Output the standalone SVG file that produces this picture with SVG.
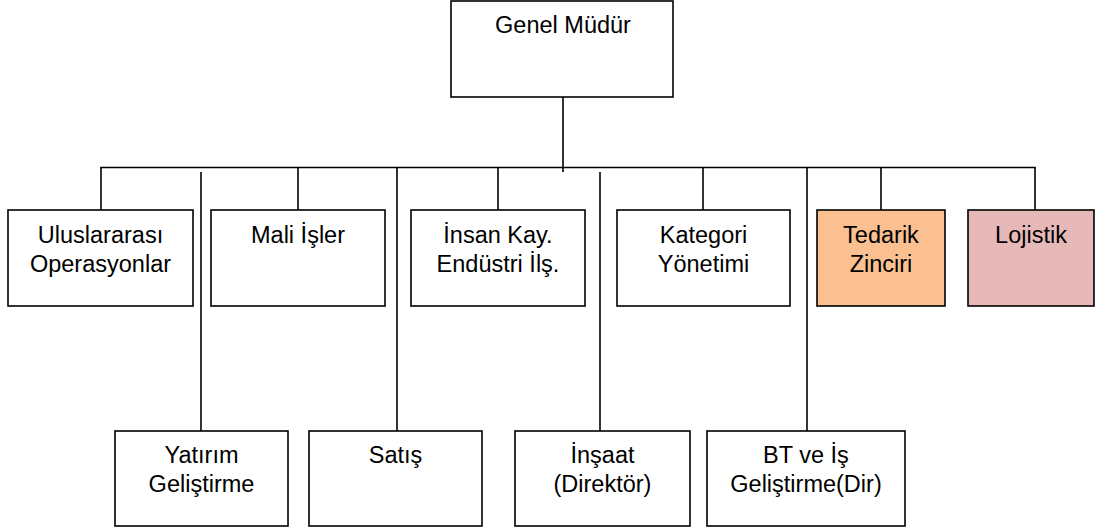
<svg xmlns="http://www.w3.org/2000/svg" width="1099" height="532" viewBox="0 0 1099 532">
  <style>
    .box { fill: #ffffff; stroke: #000000; stroke-width: 1.6; }
    .orange { fill: #FAC090; }
    .rose { fill: #E6B9B8; }
    .lbl { font-family: "Liberation Sans", Arial, sans-serif; font-size: 23.5px; fill: #000000; text-anchor: middle; }
    .conn line { stroke: #000000; stroke-width: 1.6; }
  </style>
  <rect width="1099" height="532" fill="#ffffff"/>

  <!-- connectors -->
  <g id="connectors" class="conn">
    <line x1="563" y1="97" x2="563" y2="172"/>
    <line x1="100.2" y1="167.5" x2="1035.8" y2="167.5"/>
    <line x1="101" y1="167.5" x2="101" y2="210"/>
    <line x1="298" y1="167.5" x2="298" y2="210"/>
    <line x1="498" y1="167.5" x2="498" y2="210"/>
    <line x1="703" y1="167.5" x2="703" y2="210"/>
    <line x1="881" y1="167.5" x2="881" y2="210"/>
    <line x1="1035" y1="167.5" x2="1035" y2="210"/>
    <line x1="201" y1="172" x2="201" y2="431"/>
    <line x1="397" y1="168" x2="397" y2="431"/>
    <line x1="600" y1="172" x2="600" y2="431"/>
    <line x1="807" y1="168" x2="807" y2="431"/>
  </g>

  <g id="genel-mudur">
    <rect class="box" x="451" y="1" width="222" height="96"/>
    <text class="lbl" x="563" y="33">Genel Müdür</text>
  </g>

  <g id="uluslararasi-operasyonlar">
    <rect class="box" x="8" y="210" width="185" height="96"/>
    <text class="lbl" x="100.5" y="243">Uluslararası</text>
    <text class="lbl" x="100.5" y="272">Operasyonlar</text>
  </g>

  <g id="mali-isler">
    <rect class="box" x="211" y="210" width="174" height="96"/>
    <text class="lbl" x="298" y="243">Mali İşler</text>
  </g>

  <g id="insan-kaynaklari">
    <rect class="box" x="411" y="210" width="174" height="96"/>
    <text class="lbl" x="498" y="243">İnsan Kay.</text>
    <text class="lbl" x="498" y="272">Endüstri İlş.</text>
  </g>

  <g id="kategori-yonetimi">
    <rect class="box" x="617" y="210" width="173" height="96"/>
    <text class="lbl" x="703.5" y="243">Kategori</text>
    <text class="lbl" x="703.5" y="272">Yönetimi</text>
  </g>

  <g id="tedarik-zinciri">
    <rect class="box orange" x="817" y="210" width="128" height="96"/>
    <text class="lbl" x="881" y="243">Tedarik</text>
    <text class="lbl" x="881" y="272">Zinciri</text>
  </g>

  <g id="lojistik">
    <rect class="box rose" x="968" y="210" width="126" height="96"/>
    <text class="lbl" x="1031" y="243">Lojistik</text>
  </g>

  <g id="yatirim-gelistirme">
    <rect class="box" x="115" y="431" width="173" height="95"/>
    <text class="lbl" x="201.5" y="463">Yatırım</text>
    <text class="lbl" x="201.5" y="492">Geliştirme</text>
  </g>

  <g id="satis">
    <rect class="box" x="309" y="431" width="173" height="95"/>
    <text class="lbl" x="395.5" y="463">Satış</text>
  </g>

  <g id="insaat">
    <rect class="box" x="515" y="431" width="175" height="95"/>
    <text class="lbl" x="602.5" y="463">İnşaat</text>
    <text class="lbl" x="602.5" y="492">(Direktör)</text>
  </g>

  <g id="bt-is-gelistirme">
    <rect class="box" x="707" y="431" width="198" height="95"/>
    <text class="lbl" x="806" y="463">BT ve İş</text>
    <text class="lbl" x="806" y="492">Geliştirme(Dir)</text>
  </g>
</svg>
